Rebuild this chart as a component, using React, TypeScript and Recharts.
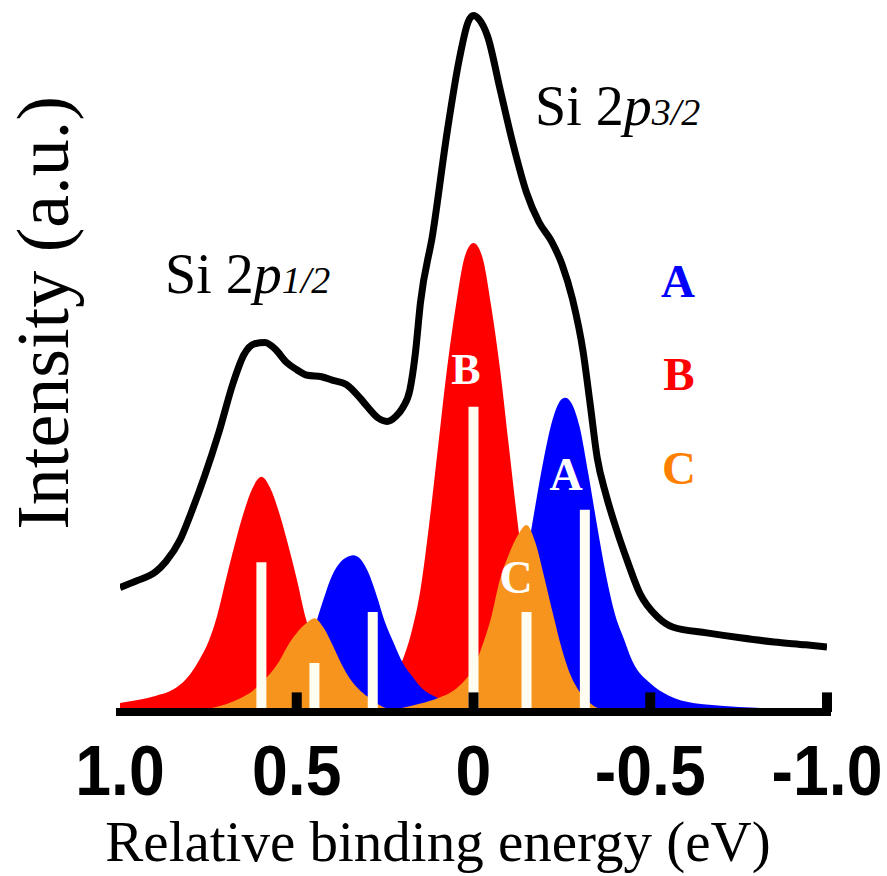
import {
  ComposedChart,
  Area,
  Line,
  XAxis,
  YAxis,
  ReferenceLine,
} from "recharts";

// [binding energy (eV), intensity (a.u., 0-100)]
const SPECTRUM: [number, number][] = [
  [1.0, 17.8], [0.95, 18.8], [0.9, 20], [0.87, 21.5], [0.83, 24.6], [0.8, 28.3],
  [0.76, 33.8], [0.72, 40], [0.68, 47], [0.65, 51], [0.62, 52.6], [0.59, 52.8],
  [0.56, 51.8], [0.53, 50], [0.5, 48.9], [0.47, 48.1], [0.43, 47.9], [0.4, 47.4],
  [0.36, 46.8], [0.32, 44.8], [0.3, 43.6], [0.27, 42], [0.245, 41.5], [0.22, 42.2],
  [0.2, 43.5], [0.18, 46], [0.165, 51], [0.15, 58.5], [0.115, 68.4], [0.075, 82.7],
  [0.04, 93.3], [0.015, 98.6], [0, 99.5], [-0.015, 99], [-0.04, 96.5], [-0.075, 89],
  [-0.11, 81.5], [-0.15, 74.2], [-0.185, 70], [-0.22, 67.3], [-0.25, 64], [-0.28, 59],
  [-0.31, 51.5], [-0.33, 44], [-0.35, 36.3], [-0.375, 31], [-0.405, 26], [-0.435, 21.6],
  [-0.47, 17], [-0.52, 13.6], [-0.565, 12.1], [-0.66, 11.3], [-0.755, 10.6],
  [-0.85, 10], [-0.94, 9.6], [-1.0, 9.3],
];

const RED_1: [number, number][] = [
  [1.0, 1.3], [0.95, 1.7], [0.9, 2.3], [0.85, 3.2], [0.8, 5.5], [0.775, 7.5],
  [0.75, 10], [0.725, 13.8], [0.7, 19], [0.675, 24], [0.65, 28.5], [0.625, 32],
  [0.6, 33.6], [0.575, 32], [0.55, 28.5], [0.525, 24], [0.5, 19], [0.475, 13.5],
  [0.45, 9.5], [0.425, 6.5], [0.4, 4.2], [0.35, 1.8], [0.3, 0.7], [0.25, 0.2], [0.2, 0],
];

const RED_2: [number, number][] = [
  [0.45, 0], [0.4, 0.3], [0.35, 0.7], [0.3, 1.5], [0.25, 3.3], [0.225, 5], [0.2, 7.5],
  [0.175, 11.5], [0.15, 17.5], [0.125, 27], [0.1, 38], [0.075, 49], [0.05, 58],
  [0.025, 65], [0, 67], [-0.025, 65], [-0.05, 58], [-0.075, 49], [-0.1, 38],
  [-0.125, 27], [-0.15, 17.5], [-0.175, 11.5], [-0.2, 7.5], [-0.225, 5], [-0.25, 3.3],
  [-0.3, 1.5], [-0.35, 0.7], [-0.4, 0.3], [-0.45, 0],
];

const BLUE_1: [number, number][] = [
  [0.75, 0.1], [0.7, 0.25], [0.65, 0.6], [0.6, 1.4], [0.55, 2.8], [0.5, 5.2],
  [0.475, 8], [0.45, 12], [0.425, 16], [0.4, 19.5], [0.375, 21.5], [0.35, 22.3],
  [0.34, 22.4], [0.325, 22.1], [0.3, 20.2], [0.275, 16.8], [0.25, 12.8], [0.225, 9.8],
  [0.2, 7], [0.175, 5.2], [0.15, 3.6], [0.1, 2], [0.05, 1.2], [0, 0.75], [-0.1, 0.45],
  [-0.2, 0.3], [-0.3, 0.2],
];

const BLUE_2: [number, number][] = [
  [0.15, 0.2], [0.1, 0.5], [0.05, 1.2], [0, 2.8], [-0.05, 5.5], [-0.1, 10.5],
  [-0.125, 15], [-0.15, 22], [-0.175, 29.5], [-0.2, 36.5], [-0.225, 42], [-0.25, 44.7],
  [-0.26, 44.9], [-0.275, 44.3], [-0.3, 40.8], [-0.325, 34], [-0.35, 26.5],
  [-0.375, 19.5], [-0.4, 14], [-0.425, 10.5], [-0.45, 7.2], [-0.5, 4.1], [-0.55, 2.4],
  [-0.6, 1.5], [-0.7, 0.9], [-0.8, 0.6], [-0.9, 0.4], [-1.0, 0.3],
];

const ORANGE_1: [number, number][] = [
  [0.8, 0.2], [0.75, 0.5], [0.7, 1.1], [0.675, 1.6], [0.65, 2.2], [0.625, 3],
  [0.6, 4.2], [0.575, 5.5], [0.55, 7.2], [0.525, 9.5], [0.5, 11.3], [0.475, 12.6],
  [0.45, 13.4], [0.425, 12.1], [0.4, 9.7], [0.375, 7], [0.35, 4.8], [0.325, 3.3],
  [0.3, 2.2], [0.275, 1.3], [0.25, 0.6], [0.2, 0.15], [0.15, 0],
];

const ORANGE_2: [number, number][] = [
  [0.25, 0.2], [0.2, 0.6], [0.15, 1.2], [0.1, 2], [0.05, 3.3], [0.025, 4.5], [0, 6.3],
  [-0.025, 9.5], [-0.05, 13.5], [-0.075, 19], [-0.1, 22.5], [-0.125, 25.2],
  [-0.15, 26.7], [-0.175, 24.2], [-0.2, 19.3], [-0.225, 14], [-0.25, 9], [-0.275, 5.2],
  [-0.3, 2.9], [-0.325, 1.5], [-0.35, 0.6], [-0.4, 0.1], [-0.45, 0],
];

// white sticks (component positions / relative weights)
const STICKS: [number, number][] = [
  [0.6, 21.4], [0.45, 7], [0.285, 14.3], [0, 43.6], [-0.15, 14.3], [-0.315, 28.9],
];

const TICKS = [1, 0.5, 0, -0.5, -1];
const TICK_LABELS = ["1.0", "0.5", "0", "-0.5", "-1.0"];

const SERIES: Record<string, [number, number][]> = {
  spec: SPECTRUM,
  red1: RED_1,
  red2: RED_2,
  blue1: BLUE_1,
  blue2: BLUE_2,
  orange1: ORANGE_1,
  orange2: ORANGE_2,
};

type Row = { e: number; [k: string]: number };

function buildTable(): Row[] {
  const rows = new Map<number, Row>();
  Object.entries(SERIES).forEach(([key, pts]) => {
    pts.forEach(([e, v]) => {
      const row = rows.get(e) ?? { e };
      row[key] = v;
      rows.set(e, row);
    });
  });
  return [...rows.values()].sort((a, b) => b.e - a.e);
}

const data = buildTable();

const RED = "#ff0000";
const BLUE = "#0000ff";
const ORANGE = "#f7941d";

const serif = "'Liberation Serif', 'Times New Roman', serif";
const sans = "'Liberation Sans', Arial, sans-serif";

function EnergyTick(props: any) {
  const { x, y, payload } = props;
  const label = TICK_LABELS[TICKS.indexOf(payload.value)];
  return (
    <text
      transform={`translate(${x},${y + 83}) scale(0.92,1)`}
      textAnchor="middle"
      fontFamily={sans}
      fontWeight={700}
      fontSize={70}
      fill="#000"
    >
      {label}
    </text>
  );
}

const fills: [string, string][] = [
  ["red1", RED],
  ["red2", RED],
  ["blue1", BLUE],
  ["blue2", BLUE],
  ["orange1", ORANGE],
  ["orange2", ORANGE],
];

export default function App() {
  return (
    <div style={{ position: "absolute", left: 0, top: 0, width: 887, height: 876, background: "#fff" }}>
      <ComposedChart
        width={887}
        height={876}
        data={data}
        margin={{ top: 12, right: 60, bottom: 0, left: 120 }}
      >
        <XAxis
          dataKey="e"
          type="number"
          domain={[-1, 1]}
          reversed
          allowDataOverflow
          ticks={TICKS}
          interval={0}
          height={164}
          tickLine={false}
          tickSize={0}
          tickMargin={0}
          tick={<EnergyTick />}
          axisLine={{ stroke: "#000", strokeWidth: 8, strokeLinecap: "square" }}
        />
        <YAxis
          type="number"
          domain={[0, 100]}
          allowDataOverflow
          width={0}
          tick={false}
          tickLine={false}
          axisLine={{ stroke: "#000", strokeWidth: 8 }}
        />
        {fills.map(([key, color]) => (
          <Area
            key={key}
            dataKey={key}
            type="monotone"
            connectNulls
            fill={color}
            fillOpacity={1}
            stroke="none"
            activeDot={false}
            isAnimationActive={false}
          />
        ))}
        {STICKS.map(([e, h]) => (
          <ReferenceLine
            key={`s${e}`}
            segment={[{ x: e, y: 0 }, { x: e, y: h }]}
            stroke="#fffdf2"
            strokeWidth={10}
            ifOverflow="visible"
          />
        ))}
        <Line
          dataKey="spec"
          type="monotone"
          connectNulls
          stroke="#000"
          strokeWidth={7}
          dot={false}
          activeDot={false}
          isAnimationActive={false}
        />
        {TICKS.slice(1).map((t) => (
          <ReferenceLine
            key={`t${t}`}
            segment={[{ x: t, y: 0 }, { x: t, y: 2.8 }]}
            stroke="#000"
            strokeWidth={10}
            ifOverflow="visible"
          />
        ))}
      </ComposedChart>
      <svg
        width={887}
        height={876}
        style={{ position: "absolute", left: 0, top: 0, pointerEvents: "none" }}
      >
        <text
          transform="translate(68,313) rotate(-90)"
          textAnchor="middle"
          fontFamily={serif}
          fontSize={74}
          fill="#000"
        >
          Intensity (a.u.)
        </text>
        <text x={438} y={861} textAnchor="middle" fontFamily={serif} fontSize={57} fill="#000">
          Relative binding energy (eV)
        </text>
        <text x={165} y={293} fontFamily={serif} fontSize={56} fill="#000">
          Si 2<tspan fontStyle="italic">p</tspan>
          <tspan fontStyle="italic" fontSize={38}>1/2</tspan>
        </text>
        <text x={535} y={125} fontFamily={serif} fontSize={56} fill="#000">
          Si 2<tspan fontStyle="italic">p</tspan>
          <tspan fontStyle="italic" fontSize={38}>3/2</tspan>
        </text>
        <g fontFamily={serif} fontWeight={700} fontSize={47} textAnchor="middle">
          <text x={678} y={297} fill={BLUE}>A</text>
          <text x={679} y={390} fill={RED}>B</text>
          <text x={679} y={484} fill="#ff8000">C</text>
          <text x={466} y={384} fill="#fff" fontSize={44}>B</text>
          <text x={566} y={490} fill="#fff" fontSize={46}>A</text>
          <text x={516} y={593} fill="#fff" fontSize={46}>C</text>
        </g>
      </svg>
    </div>
  );
}
